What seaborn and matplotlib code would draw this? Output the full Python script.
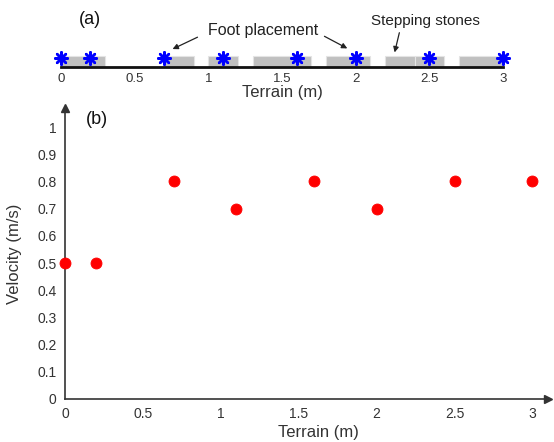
import numpy as np
import pandas as pd
import matplotlib
matplotlib.use('Agg')
import matplotlib.pyplot as plt
from matplotlib.patches import Rectangle
import seaborn as sns

# foot placements and velocity at each one
terrain = [0, 0.2, 0.7, 1.1, 1.6, 2.0, 2.5, 3.0]
velocity = [0.5, 0.5, 0.8, 0.7, 0.8, 0.7, 0.8, 0.8]

# stepping stones (start, end) in metres
stone_start = [0, 0.7, 1.0, 1.3, 1.8, 2.2, 2.4, 2.7]
stone_end = [0.3, 0.9, 1.2, 1.7, 2.1, 2.4, 2.6, 3.0]

x_ticks = [0, 0.5, 1, 1.5, 2, 2.5, 3]
x_ticklabels = ['0', '0.5', '1', '1.5', '2', '2.5', '3']
y_ticks = [0, 0.1, 0.2, 0.3, 0.4, 0.5, 0.6, 0.7, 0.8, 0.9, 1]
y_ticklabels = ['0', '0.1', '0.2', '0.3', '0.4', '0.5', '0.6', '0.7', '0.8', '0.9', '1']

sns.set_style('white')
plt.rcParams['font.family'] = ['Liberation Sans', 'DejaVu Sans']

df = pd.DataFrame({'Terrain': terrain, 'Velocity': velocity})
axis_col = '#333333'

fig = plt.figure(figsize=(5.54, 4.42), dpi=100)
W, H = 554, 442

# ---- (a) terrain strip ----
ax_a = fig.add_axes([61 / W, 1 - 67 / H, 442 / W, 27 / H])
for s, e in zip(stone_start, stone_end):
    ax_a.add_patch(Rectangle((s, 0), e - s, 0.4, facecolor='#c0c0c0',
                             edgecolor='#e4e4e4', linewidth=0.8, zorder=1))
df['stone_y'] = 0.34
sns.scatterplot(data=df, x='Terrain', y='stone_y', ax=ax_a, marker=(8, 2, 0), s=80,
                color='#0000ff', edgecolor='#0000ff', linewidth=1.8, zorder=3, clip_on=False)
ax_a.set_xlim(0, 3)
ax_a.set_ylim(0, 1)
for sp in ['top', 'right', 'left']:
    ax_a.spines[sp].set_visible(False)
ax_a.spines['bottom'].set_linewidth(2)
ax_a.spines['bottom'].set_color('#111111')
ax_a.set_yticks([])
ax_a.set_xticks(x_ticks)
ax_a.set_xticklabels(x_ticklabels)
ax_a.tick_params(axis='x', direction='in', length=4, width=1.2, pad=4,
                 labelsize=9.5, colors='#111111', labelcolor=axis_col)
ax_a.set_xlabel('Terrain (m)', fontsize=12, color=axis_col, labelpad=0)
ax_a.set_ylabel('')

fig.text(90 / W, 1 - 20 / H, '(a)', fontsize=13, ha='center', va='center', color='#111111')
fig.text(263 / W, 1 - 31 / H, 'Foot placement', fontsize=11.5, ha='center', va='center', color='#222222')
fig.text(425 / W, 1 - 21 / H, 'Stepping stones', fontsize=11, ha='center', va='center', color='#222222')
arrow = dict(arrowstyle='-|>', color='#222222', lw=0.9, mutation_scale=8)
ax_a.annotate('', xy=(0.74, 0.62), xycoords='data', xytext=(200 / W, 1 - 36 / H),
              textcoords='figure fraction', arrowprops=arrow)
ax_a.annotate('', xy=(1.96, 0.64), xycoords='data', xytext=(322 / W, 1 - 35 / H),
              textcoords='figure fraction', arrowprops=arrow)
ax_a.annotate('', xy=(2.26, 0.44), xycoords='data', xytext=(400 / W, 1 - 30 / H),
              textcoords='figure fraction', arrowprops=arrow)

# ---- (b) velocity ----
ax_b = fig.add_axes([65 / W, 1 - 399 / H, (548 - 65) / W, (399 - 108) / H])
sns.scatterplot(data=df, x='Terrain', y='Velocity', ax=ax_b, color='#ff0000',
                edgecolor='#ff0000', s=62, zorder=3, clip_on=False)
ax_b.set_xlim(0, 3.1)
ax_b.set_ylim(0, 1.07)
for sp in ['top', 'right']:
    ax_b.spines[sp].set_visible(False)
for sp in ['bottom', 'left']:
    ax_b.spines[sp].set_color(axis_col)
    ax_b.spines[sp].set_linewidth(1.2)
ax_b.plot(1, 0, '>', color=axis_col, ms=6, transform=ax_b.get_yaxis_transform(), clip_on=False)
ax_b.plot(0, 1, '^', color=axis_col, ms=6, transform=ax_b.get_xaxis_transform(), clip_on=False)
ax_b.set_xticks(x_ticks)
ax_b.set_xticklabels(x_ticklabels)
ax_b.set_yticks(y_ticks)
ax_b.set_yticklabels(y_ticklabels)
ax_b.tick_params(axis='both', direction='in', length=0, pad=6, labelsize=10, labelcolor=axis_col)
ax_b.set_xlabel('Terrain (m)', fontsize=12, color=axis_col)
ax_b.xaxis.set_label_coords(0.524, -0.088)
ax_b.set_ylabel('Velocity (m/s)', fontsize=12, color=axis_col)
ax_b.yaxis.set_label_coords(-0.09, 0.5)
fig.text(97 / W, 1 - 120 / H, '(b)', fontsize=13, ha='center', va='center', color='#111111')

fig.savefig('out.png', dpi=100)
